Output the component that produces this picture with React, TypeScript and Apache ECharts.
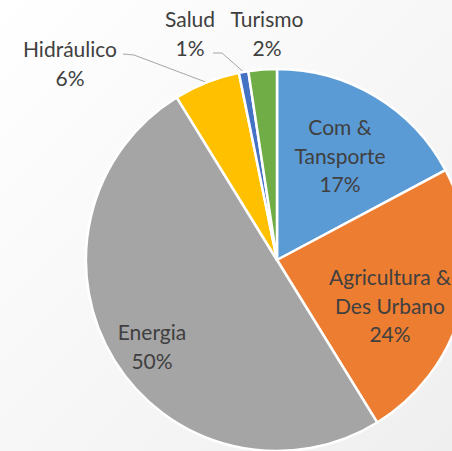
import React, { useEffect, useRef } from "react";
import * as echarts from "echarts";

const CATEGORIES = [
  "Com &\nTansporte",
  "Agricultura &\nDes Urbano",
  "Energia",
  "Hidráulico",
  "Salud",
  "Turismo",
];
const VALUES = [17.2, 24.0, 50.0, 5.6, 0.8, 2.4];
const COLORS = ["#5B9BD5", "#ED7D31", "#A5A5A5", "#FFC000", "#4472C4", "#70AD47"];
const INSIDE = [true, true, true, false, false, false];
const SHOW_LEADER = [false, false, false, true, true, false];

// label block centres (layout, not data)
const LABEL_CENTERS: number[][] = [
  [340, 155],
  [390, 305],
  [152, 346],
  [70, 63],
  [190, 33],
  [267, 33],
];
// leader-line bend points (from slice edge towards the label)
const LEADER_BENDS: (number[][] | null)[] = [
  null,
  null,
  null,
  [
    [134, 55],
    [123, 54],
  ],
  [
    [222, 53],
    [213, 53],
  ],
  null,
];

export default function App() {
  const ref = useRef<HTMLDivElement>(null);
  useEffect(() => {
    if (!ref.current) return;
    const chart = echarts.init(ref.current, null, { renderer: "svg" });
    const data = CATEGORIES.map((name, i) => ({
      name,
      value: VALUES[i],
      itemStyle: { color: COLORS[i] },
      label: { position: INSIDE[i] ? "inside" : "outside" },
      labelLine: { show: SHOW_LEADER[i] },
    }));
    chart.setOption({
      animation: false,
      backgroundColor: new echarts.graphic.LinearGradient(0, 0, 1, 1, [
        { offset: 0, color: "#FFFFFF" },
        { offset: 1, color: "#EFEFEF" },
      ]),
      series: [
        {
          type: "pie",
          center: [277, 260],
          radius: 191,
          startAngle: 90,
          clockwise: true,
          avoidLabelOverlap: false,
          itemStyle: { borderColor: "#FFFFFF", borderWidth: 2.5 },
          label: {
            show: true,
            fontFamily: "Lato",
            fontSize: 21,
            lineHeight: 28.5,
            color: "#404040",
            align: "center",
            formatter: (p: any) => `${p.name}\n${Math.round(p.percent)}%`,
          },
          labelLine: {
            show: true,
            lineStyle: { color: "#A6A6A6", width: 1 },
          },
          labelLayout: (p: any) => {
            const i = p.dataIndex;
            const c = LABEL_CENTERS[i];
            const res: any = {
              x: c[0],
              y: c[1],
              align: "center",
              verticalAlign: "middle",
            };
            const bends = LEADER_BENDS[i];
            if (bends && p.labelLinePoints && p.labelLinePoints[0]) {
              res.labelLinePoints = [p.labelLinePoints[0], ...bends];
            }
            return res;
          },
          data,
        },
      ],
    });
    return () => chart.dispose();
  }, []);
  return (
    <div
      ref={ref}
      style={{ position: "absolute", left: 0, top: 0, width: 452, height: 451 }}
    />
  );
}
